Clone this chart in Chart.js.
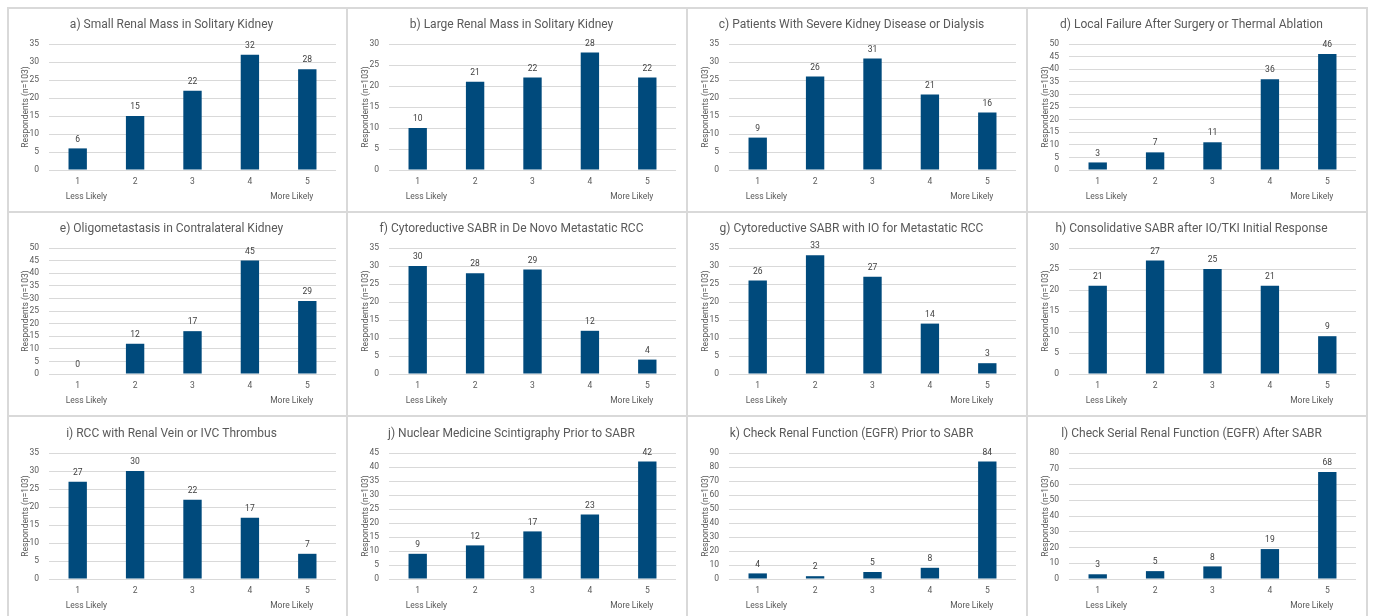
<!DOCTYPE html>
<html>
<head>
<meta charset="utf-8">
<script src="https://cdn.jsdelivr.net/npm/chart.js@4.4.1/dist/chart.umd.min.js"></script>
<style>
  html, body { margin: 0; padding: 0; background: #ffffff; }
  body { width: 1375px; height: 616px; position: relative; overflow: hidden; }
  canvas.panel { position: absolute; }
  .vline, .hline { position: absolute; background: #d9d9d9; z-index: 2; }
</style>
</head>
<body>
<script>
// Likert response levels on the x axis
const likertLevels = ['1', '2', '3', '4', '5'];
const lowAnchor = 'Less Likely';
const highAnchor = 'More Likely';
const axisTitle = 'Respondents (n=103)';

const panelTitles = [
  'a) Small Renal Mass in Solitary Kidney',
  'b) Large Renal Mass in Solitary Kidney',
  'c) Patients With Severe Kidney Disease or Dialysis',
  'd) Local Failure After Surgery or Thermal Ablation',
  'e) Oligometastasis in Contralateral Kidney',
  'f) Cytoreductive SABR in De Novo Metastatic RCC',
  'g) Cytoreductive SABR with IO for Metastatic RCC',
  'h) Consolidative SABR after IO/TKI Initial Response',
  'i) RCC with Renal Vein or IVC Thrombus',
  'j) Nuclear Medicine Scintigraphy Prior to SABR',
  'k) Check Renal Function (EGFR) Prior to SABR',
  'l) Check Serial Renal Function (EGFR) After SABR'
];

// Respondent counts per Likert level
const smallMassSolitary   = [6, 15, 22, 32, 28];
const largeMassSolitary   = [10, 21, 22, 28, 22];
const severeCkdDialysis   = [9, 26, 31, 21, 16];
const localFailure        = [3, 7, 11, 36, 46];
const contralateralOligo  = [0, 12, 17, 45, 29];
const cytoreductiveDeNovo = [30, 28, 29, 12, 4];
const cytoreductiveWithIO = [26, 33, 27, 14, 3];
const consolidativeIOTKI  = [21, 27, 25, 21, 9];
const veinIvcThrombus     = [27, 30, 22, 17, 7];
const scintigraphyPrior   = [9, 12, 17, 23, 42];
const egfrPrior           = [4, 2, 5, 8, 84];
const egfrSerialAfter     = [3, 5, 8, 19, 68];

const panelValues = [
  smallMassSolitary, largeMassSolitary, severeCkdDialysis, localFailure,
  contralateralOligo, cytoreductiveDeNovo, cytoreductiveWithIO, consolidativeIOTKI,
  veinIvcThrombus, scintigraphyPrior, egfrPrior, egfrSerialAfter
];

// y axis extents and tick steps
const axisMax  = [35, 30, 35, 50, 50, 35, 35, 30, 35, 45, 90, 80];
const axisStep = [5, 5, 5, 5, 5, 5, 5, 5, 5, 5, 10, 10];

// grid geometry
const colLeft = [7, 347, 687, 1027];
const rowTop = [8, 212, 417];
const panelW = 340, panelH = 204;
const FONT = 'Roboto, "Liberation Sans", Arial, sans-serif';
const BAR = '#004a7c';
const TEXT = '#595959';

// value labels above the bars
const valueLabels = {
  id: 'valueLabels',
  afterDatasetsDraw(chart) {
    const { ctx } = chart;
    const meta = chart.getDatasetMeta(0);
    const data = chart.data.datasets[0].data;
    ctx.save();
    ctx.font = '8.5px ' + FONT;
    ctx.fillStyle = '#404040';
    ctx.textAlign = 'center';
    ctx.textBaseline = 'middle';
    meta.data.forEach((bar, i) => {
      ctx.fillText(String(data[i]), bar.x, bar.y - 9);
    });
    ctx.restore();
  }
};

// "Less Likely" / "More Likely" anchors under the first and last levels
const anchorLabels = {
  id: 'anchorLabels',
  afterDraw(chart) {
    const { ctx } = chart;
    const x = chart.scales.x;
    const y = chart.chartArea.bottom + 27;
    ctx.save();
    ctx.font = '8.5px ' + FONT;
    ctx.fillStyle = TEXT;
    ctx.textBaseline = 'middle';
    ctx.textAlign = 'left';
    ctx.fillText(lowAnchor, x.getPixelForValue(0) - 12, y);
    ctx.textAlign = 'right';
    ctx.fillText(highAnchor, x.getPixelForValue(4) + 6, y);
    ctx.restore();
  }
};

panelValues.forEach((values, idx) => {
  const col = idx % 4, row = Math.floor(idx / 4);
  const cv = document.createElement('canvas');
  cv.className = 'panel';
  cv.width = panelW; cv.height = panelH;
  cv.style.left = colLeft[col] + 'px';
  cv.style.top = rowTop[row] + 'px';
  cv.style.width = panelW + 'px';
  cv.style.height = panelH + 'px';
  document.body.appendChild(cv);

  const max = axisMax[idx], step = axisStep[idx];

  new Chart(cv, {
    type: 'bar',
    data: {
      labels: likertLevels,
      datasets: [{
        data: values,
        backgroundColor: BAR,
        borderWidth: 0,
        barPercentage: 1,
        categoryPercentage: 0.32
      }]
    },
    options: {
      responsive: false,
      animation: false,
      devicePixelRatio: 1,
      layout: { padding: { left: 0, right: 11, top: 0, bottom: 0 } },
      plugins: {
        legend: { display: false },
        tooltip: { enabled: false },
        title: {
          display: true,
          text: panelTitles[idx],
          color: TEXT,
          font: { family: FONT, size: 12, weight: 'normal' },
          padding: { top: 10, bottom: 11.6 }
        }
      },
      scales: {
        x: {
          grid: { display: false, drawTicks: false },
          border: { display: false },
          ticks: { color: TEXT, font: { family: FONT, size: 8.5 }, padding: 7, maxRotation: 0 },
          afterFit(scale) { scale.height = 42; }
        },
        y: {
          min: 0,
          max: max,
          grid: { color: '#d9d9d9', lineWidth: 1, drawTicks: false },
          border: { display: false },
          ticks: {
            stepSize: step,
            autoSkip: false,
            color: TEXT,
            font: { family: FONT, size: 8.5 },
            padding: 10
          },
          afterBuildTicks(scale) {
            const ticks = [];
            for (let v = 0; v <= max; v += step) ticks.push({ value: v });
            scale.ticks = ticks;
          },
          title: {
            display: true,
            text: axisTitle,
            color: TEXT,
            font: { family: FONT, size: 8.5 },
            padding: { top: 14, bottom: 0 }
          },
          afterFit(scale) { scale.width = 42; }
        }
      }
    },
    plugins: [valueLabels, anchorLabels]
  });
});

// panel frame lines
[7, 346, 686, 1026, 1366].forEach(x => {
  const d = document.createElement('div');
  d.className = 'vline';
  Object.assign(d.style, { left: x + 'px', top: '7px', width: '2px', height: '620px' });
  document.body.appendChild(d);
});
[7, 211, 415].forEach(y => {
  const d = document.createElement('div');
  d.className = 'hline';
  Object.assign(d.style, { left: '7px', top: y + 'px', width: '1361px', height: '2px' });
  document.body.appendChild(d);
});
</script>
</body>
</html>
